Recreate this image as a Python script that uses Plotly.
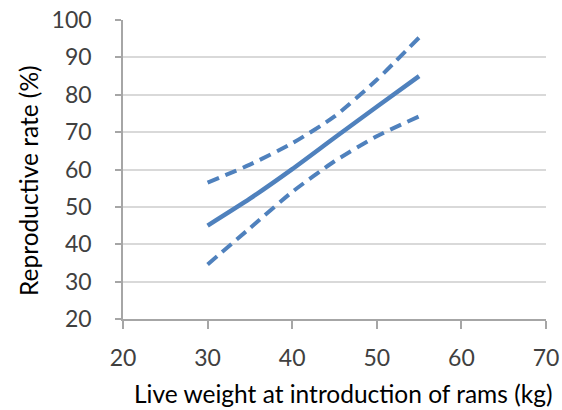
import plotly.graph_objects as go

weight = [30, 35, 40, 45, 50, 55]
rate_fit = [45, 52.2, 60.1, 68.5, 76.8, 85]
rate_upper = [56.5, 61.3, 67.0, 74.2, 84.0, 95.3]
rate_lower = [34.6, 44.3, 54.0, 62.2, 68.9, 74.2]

x_ticks = [20, 30, 40, 50, 60, 70]
y_ticks = [20, 30, 40, 50, 60, 70, 80, 90, 100]

blue = "#4f81bd"
fig = go.Figure()
fig.add_trace(go.Scatter(x=weight, y=rate_upper, mode="lines", line=dict(color=blue, width=4, dash="12px,7px", shape="spline", smoothing=0.6), showlegend=False))
fig.add_trace(go.Scatter(x=weight, y=rate_lower, mode="lines", line=dict(color=blue, width=4, dash="12px,7px", shape="spline", smoothing=0.6), showlegend=False))
fig.add_trace(go.Scatter(x=weight, y=rate_fit, mode="lines", line=dict(color=blue, width=4.5, shape="spline", smoothing=0.6), showlegend=False))

font = "Lato"
L, R, T, B = 123, 16, 20, 91
W, H = 562, 410
pw, ph = W - L - R, H - T - B
fig.update_layout(
    width=W, height=H,
    margin=dict(l=L, r=R, t=T, b=B),
    plot_bgcolor="white", paper_bgcolor="white",
    font=dict(family=font, size=23, color="#404040"),
    xaxis=dict(range=[20, 70], tickvals=x_ticks, showgrid=False, zeroline=False, automargin=False,
               showline=True, linecolor="#a6a6a6", linewidth=1.5,
               ticks="outside", ticklen=8, tickcolor="#a6a6a6", tickwidth=1.5,
               ticklabelstandoff=10,
               tickfont=dict(family=font, size=23, color="#404040")),
    yaxis=dict(range=[20, 100], tickvals=y_ticks, showgrid=True, gridcolor="#d9d9d9", gridwidth=1.5,
               zeroline=False, showline=True, linecolor="#a6a6a6", linewidth=1.5, automargin=False,
               ticks="outside", ticklen=6, tickcolor="#a6a6a6", tickwidth=1.5,
               ticklabelstandoff=19,
               tickfont=dict(family=font, size=23, color="#404040")),
)
fig.add_annotation(text="Live weight at introduction of rams (kg)", xref="paper", yref="paper",
                   x=(343 - L) / pw, y=-(393 - (H - B)) / ph, xanchor="center", yanchor="middle",
                   showarrow=False, font=dict(family=font, size=24.5, color="#000000"))
fig.add_annotation(text="Reproductive rate (%)", xref="paper", yref="paper",
                   x=-(L - 28) / pw, y=((H - B) - 181) / ph, xanchor="center", yanchor="middle",
                   textangle=-90, showarrow=False, font=dict(family=font, size=24.5, color="#000000"))
fig.write_html("out.html")
